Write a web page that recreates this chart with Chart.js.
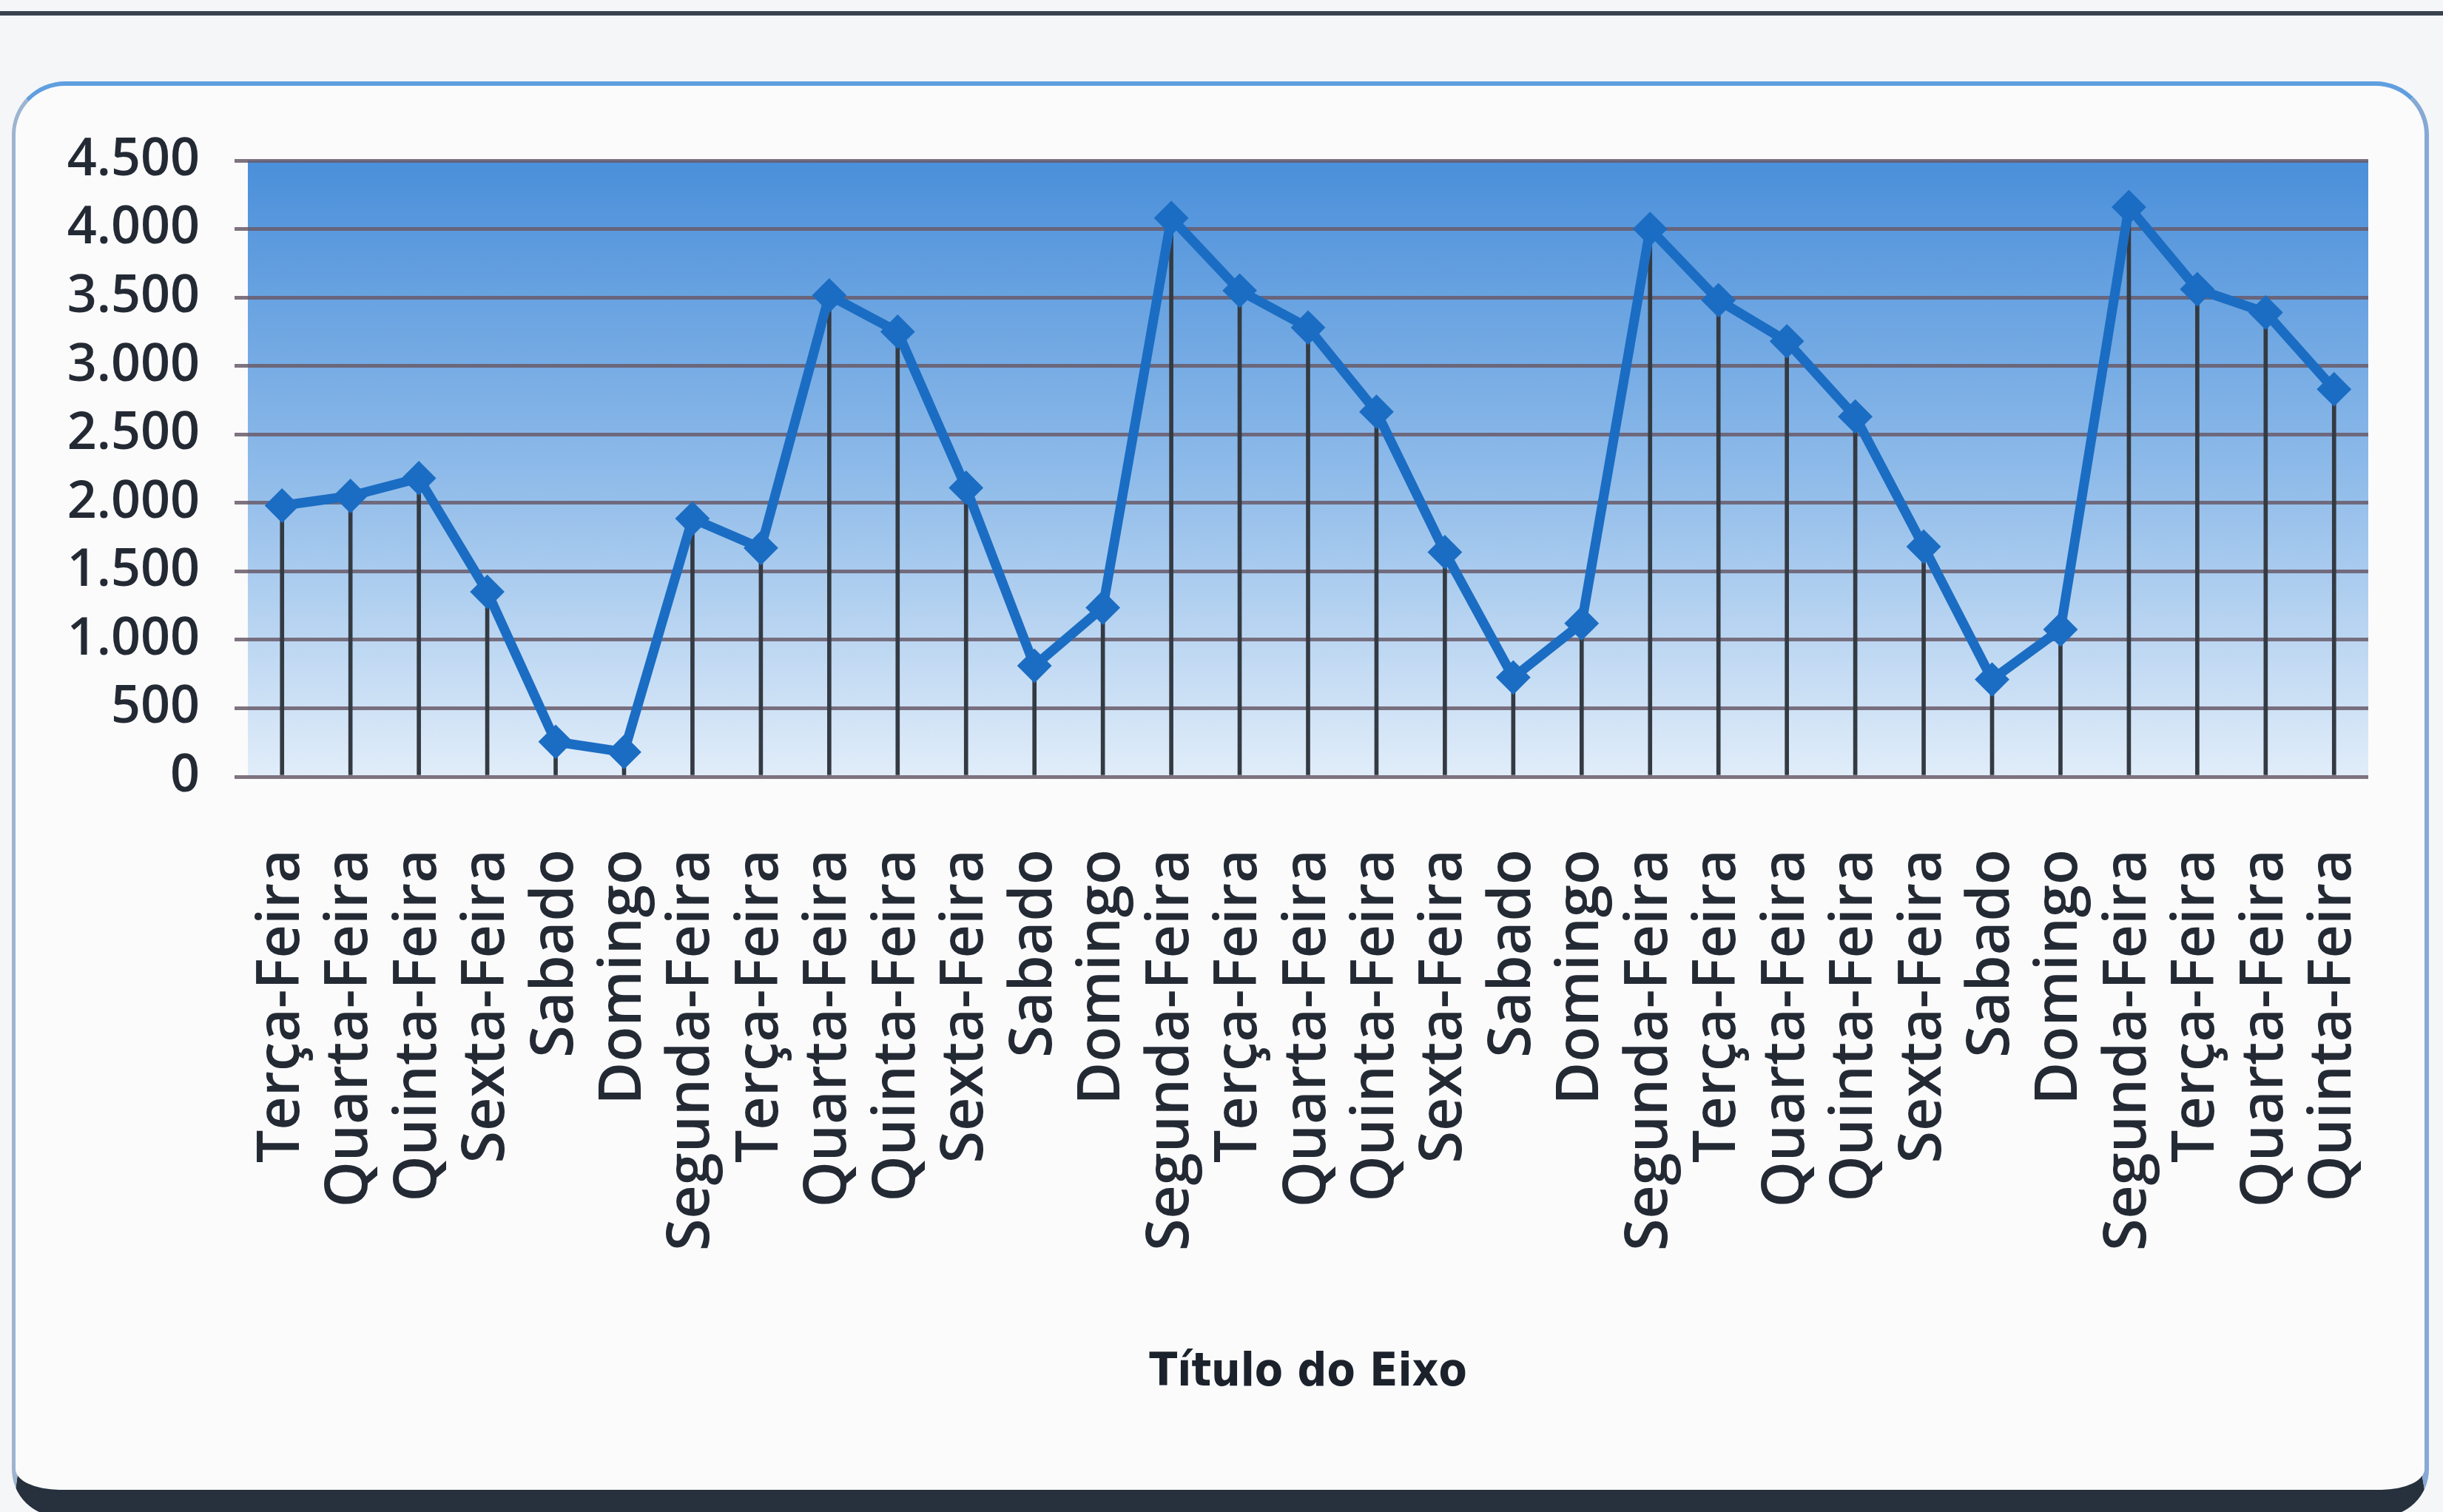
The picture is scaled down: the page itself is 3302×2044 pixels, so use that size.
<!DOCTYPE html>
<html>
<head>
<meta charset="utf-8">
<script src="https://cdn.jsdelivr.net/npm/chart.js@4.4.1/dist/chart.umd.min.js"></script>
<style>
  html, body { margin: 0; padding: 0; }
  body {
    width: 3302px; height: 2044px; position: relative; overflow: hidden;
    background: #f5f6f8;
  }
  /* dark rule across the top of the page */
  .rule {
    position: absolute; left: 0; top: 15px; width: 3302px; height: 6px;
    background: #39424e;
  }
  /* rounded chart frame */
  .frame {
    position: absolute; left: 16px; top: 110px;
    width: 3256px; height: 1898px;
    border-top: 6px solid #5f9fe0;
    border-left: 5px solid #9db4cf;
    border-right: 6px solid #86a9d4;
    border-bottom: 36px solid #26313d;
    border-radius: 72px 72px 64px 64px;
    background: #fbfbfc;
  }
  canvas { position: absolute; left: 0; top: 0; }
</style>
</head>
<body>
<div class="rule"></div>
<div class="frame"></div>
<canvas id="chart" width="3302" height="2044"></canvas>
<script>
/* ============================================================
   Line chart with drop lines — daily values, pt-BR labels
   ============================================================ */

const DAYS = [
  'Terça-Feira', 'Quarta-Feira', 'Quinta-Feira', 'Sexta-Feira', 'Sabado', 'Domingo',
  'Segunda-Feira', 'Terça-Feira', 'Quarta-Feira', 'Quinta-Feira', 'Sexta-Feira', 'Sabado', 'Domingo',
  'Segunda-Feira', 'Terça-Feira', 'Quarta-Feira', 'Quinta-Feira', 'Sexta-Feira', 'Sabado', 'Domingo',
  'Segunda-Feira', 'Terça-Feira', 'Quarta-Feira', 'Quinta-Feira', 'Sexta-Feira', 'Sabado', 'Domingo',
  'Segunda-Feira', 'Terça-Feira', 'Quarta-Feira', 'Quinta-Feira',
];

const VALUES = [
  1980, 2050, 2180, 1350, 255, 180,
  1885, 1670, 3515, 3250, 2110, 810, 1235,
  4080, 3550, 3280, 2665, 1640, 725, 1120,
  4000, 3480, 3180, 2630, 1680, 710, 1075,
  4160, 3560, 3390, 2830,
];

const Y_MIN = 0;
const Y_MAX = 4500;
const Y_STEP = 500;

const AXIS_TITLE = 'Título do Eixo';

const COLORS = {
  line: '#1b6dc3',
  drop: '#343a42',
  grid: 'rgba(104, 90, 106, 0.85)',
  text: '#242a34',
  title: '#1c222c',
  plotTop: '#4a8fda',
  plotMid: '#8dbae9',
  plotBottom: '#e1edf9',
};

// thousands with a dot, as in the original
function fmt(v) {
  return String(v).replace(/\B(?=(\d{3})+(?!\d))/g, '.');
}

// gradient fill behind the plot area
const plotBackground = {
  id: 'plotBackground',
  beforeDraw(chart) {
    const { ctx, chartArea: a } = chart;
    const g = ctx.createLinearGradient(0, a.top, 0, a.bottom);
    g.addColorStop(0, COLORS.plotTop);
    g.addColorStop(0.5, COLORS.plotMid);
    g.addColorStop(1, COLORS.plotBottom);
    ctx.save();
    ctx.fillStyle = g;
    ctx.fillRect(a.left, a.top, a.right - a.left, a.bottom - a.top);
    ctx.restore();
  },
};

new Chart(document.getElementById('chart'), {
  type: 'bar',
  data: {
    labels: DAYS,
    datasets: [
      {
        type: 'line',
        label: 'Valores',
        data: VALUES,
        order: 0,
        borderColor: COLORS.line,
        borderWidth: 13,
        tension: 0,
        pointStyle: 'rectRot',
        pointRadius: 22,
        pointBackgroundColor: COLORS.line,
        pointBorderColor: COLORS.line,
        pointBorderWidth: 2,
      },
      {
        // drop lines from each point down to the axis
        label: 'Linhas',
        data: VALUES,
        order: 1,
        backgroundColor: COLORS.drop,
        barThickness: 5,
      },
    ],
  },
  options: {
    responsive: false,
    animation: false,
    layout: { padding: { top: 217, right: 101, left: 0, bottom: 0 } },
    plugins: {
      legend: { display: false },
      tooltip: { enabled: false },
    },
    scales: {
      x: {
        grid: { display: false, drawTicks: false },
        border: { display: false },
        ticks: {
          autoSkip: false,
          minRotation: 90,
          maxRotation: 90,
          padding: 98,
          color: COLORS.text,
          font: { family: 'Open Sans', size: 79, weight: '600' },
        },
        title: {
          display: true,
          text: AXIS_TITLE,
          color: COLORS.title,
          font: { family: "'DejaVu Sans Condensed', 'Liberation Sans Narrow', Lato, sans-serif", size: 62, weight: 'bold' },
          padding: { top: 0, bottom: 150 },
        },
        afterFit(scale) {
          scale.height = 994;
          // keep the rotated labels from pushing the plot inwards
          scale.paddingLeft = 0;
          scale.paddingRight = 0;
        },
      },
      y: {
        min: Y_MIN,
        max: Y_MAX,
        grid: {
          color: COLORS.grid,
          lineWidth: 5,
          tickLength: 18,
        },
        border: { display: false },
        ticks: {
          stepSize: Y_STEP,
          padding: 47,
          color: COLORS.text,
          font: { family: 'Open Sans', size: 70, weight: '600' },
          callback: (v) => fmt(v),
        },
        afterFit(scale) { scale.width = 335; },
      },
    },
  },
  plugins: [plotBackground],
});
</script>
</body>
</html>
